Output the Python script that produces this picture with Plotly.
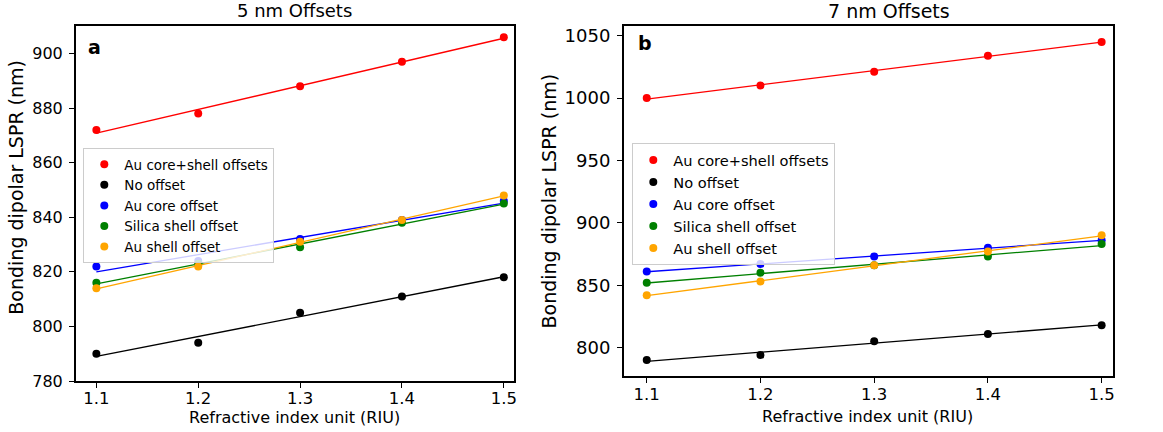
import numpy as np
import plotly.graph_objects as go

W, H = 1163, 432
FONT = "DejaVu Sans"

# ---- data ----
riu = [1.1, 1.2, 1.3, 1.4, 1.5]
series_names = ["Au core+shell offsets", "No offset", "Au core offset",
                "Silica shell offset", "Au shell offset"]
series_colors = ["#ff0000", "#000000", "#0000ff", "#008000", "#ffa500"]

# 5 nm offsets (panel a)
a_core_shell = [872, 878, 888, 897, 906]
a_no_offset = [790, 794, 805, 811, 818]
a_core = [822, 824, 832, 839, 846]
a_silica_shell = [816, 823, 829, 838, 845]
a_au_shell = [814, 822, 831, 839, 848]

# 7 nm offsets (panel b)
b_core_shell = [1000, 1010, 1021, 1034, 1045]
b_no_offset = [790, 794, 805, 811, 818]
b_core = [861, 867, 873, 880, 886]
b_silica_shell = [852, 860, 866, 873, 883]
b_au_shell = [842, 853, 866, 877, 890]

x_ticks = [1.1, 1.2, 1.3, 1.4, 1.5]
a_y_ticks = [780, 800, 820, 840, 860, 880, 900]
b_y_ticks = [800, 850, 900, 950, 1000, 1050]

panel_a = [a_core_shell, a_no_offset, a_core, a_silica_shell, a_au_shell]
panel_b = [b_core_shell, b_no_offset, b_core, b_silica_shell, b_au_shell]


def px(x):
    return x / W


def py(y):
    return 1 - y / H


fig = go.Figure()

for panel, xa, ya, leg in [(panel_a, "x", "y", "legend"),
                           (panel_b, "x2", "y2", "legend2")]:
    # fitted lines first (not in legend)
    for vals, col in zip(panel, series_colors):
        k, b = np.polyfit(riu, vals, 1)
        xs = [riu[0], riu[-1]]
        fig.add_trace(go.Scatter(
            x=xs, y=[k * v + b for v in xs], mode="lines",
            line=dict(color=col, width=1.3), showlegend=False,
            xaxis=xa, yaxis=ya, hoverinfo="skip"))
    for vals, col, name in zip(panel, series_colors, series_names):
        fig.add_trace(go.Scatter(
            x=riu, y=vals, mode="markers", name=name,
            marker=dict(color=col, size=8),
            xaxis=xa, yaxis=ya, legend=leg))

axis_common = dict(showline=True, mirror=True, linecolor="black", linewidth=2,
                   ticks="outside", ticklen=5, tickwidth=1.2, tickcolor="black",
                   showgrid=False, zeroline=False, automargin=False)

fig.update_layout(
    autosize=True,
    margin=dict(l=0, r=0, t=0, b=0, pad=0),
    paper_bgcolor="white", plot_bgcolor="white",
    font=dict(family=FONT, color="black"),
    xaxis=dict(domain=[px(76), px(514)], range=[1.08, 1.51], tickvals=x_ticks,
               tickformat=".1f", anchor="y", tickfont=dict(size=16.5),
               ticklabelstandoff=-4, **axis_common),
    yaxis=dict(domain=[py(381), py(25.7)], range=[780, 910.2],
               tickvals=a_y_ticks, anchor="x", tickfont=dict(size=16),
               ticklabelstandoff=3, **axis_common),
    xaxis2=dict(domain=[px(624), px(1113)], range=[1.08, 1.51],
                tickvals=x_ticks, tickformat=".1f", anchor="y2",
                tickfont=dict(size=16.5), ticklabelstandoff=-3,
                **axis_common),
    yaxis2=dict(domain=[py(376), py(26)], range=[777.25, 1057.75],
                tickvals=b_y_ticks, anchor="x2", tickfont=dict(size=18),
                ticklabelstandoff=3, **axis_common),
    legend=dict(x=px(83.3), y=py(148), xanchor="left", yanchor="top",
                xref="paper", yref="paper",
                bgcolor="rgba(255,255,255,0.8)", bordercolor="#cccccc",
                borderwidth=1, font=dict(size=13.5, family=FONT),
                tracegroupgap=0),
    legend2=dict(x=px(632.3), y=py(143), xanchor="left", yanchor="top",
                 xref="paper", yref="paper",
                 bgcolor="rgba(255,255,255,0.8)", bordercolor="#cccccc",
                 borderwidth=1, font=dict(size=14.6, family=FONT),
                 tracegroupgap=0),
)

annotations = [
    dict(text="5 nm Offsets", x=px(294.3), y=py(11), size=18),
    dict(text="7 nm Offsets", x=px(888.7), y=py(11.5), size=19),
    dict(text="Refractive index unit (RIU)", x=px(294.2), y=py(417.5), size=16),
    dict(text="Refractive index unit (RIU)", x=px(867.5), y=py(416.5), size=16),
    dict(text="<b>a</b>", x=px(94), y=py(47), size=19),
    dict(text="<b>b</b>", x=px(644.5), y=py(42.5), size=19),
]
for a in annotations:
    fig.add_annotation(text=a["text"], x=a["x"], y=a["y"], xref="paper",
                       yref="paper", xanchor="center", yanchor="middle",
                       showarrow=False, font=dict(size=a["size"], family=FONT,
                                                  color="black"))

for xc, yc in [(16, 187.7), (549, 201.5)]:
    fig.add_annotation(text="Bonding dipolar LSPR (nm)", x=px(xc), y=py(yc),
                       xref="paper", yref="paper", xanchor="center",
                       yanchor="middle", textangle=-90, showarrow=False,
                       font=dict(size=19, family=FONT, color="black"))

fig.write_html(
    "out.html",
    config={"displayModeBar": False, "responsive": True},
    default_width="100vw", default_height="100vh",
    post_script="document.documentElement.style.margin='0';"
                "document.documentElement.style.overflow='hidden';"
                "document.body.style.margin='0';"
                "document.body.style.overflow='hidden';")
